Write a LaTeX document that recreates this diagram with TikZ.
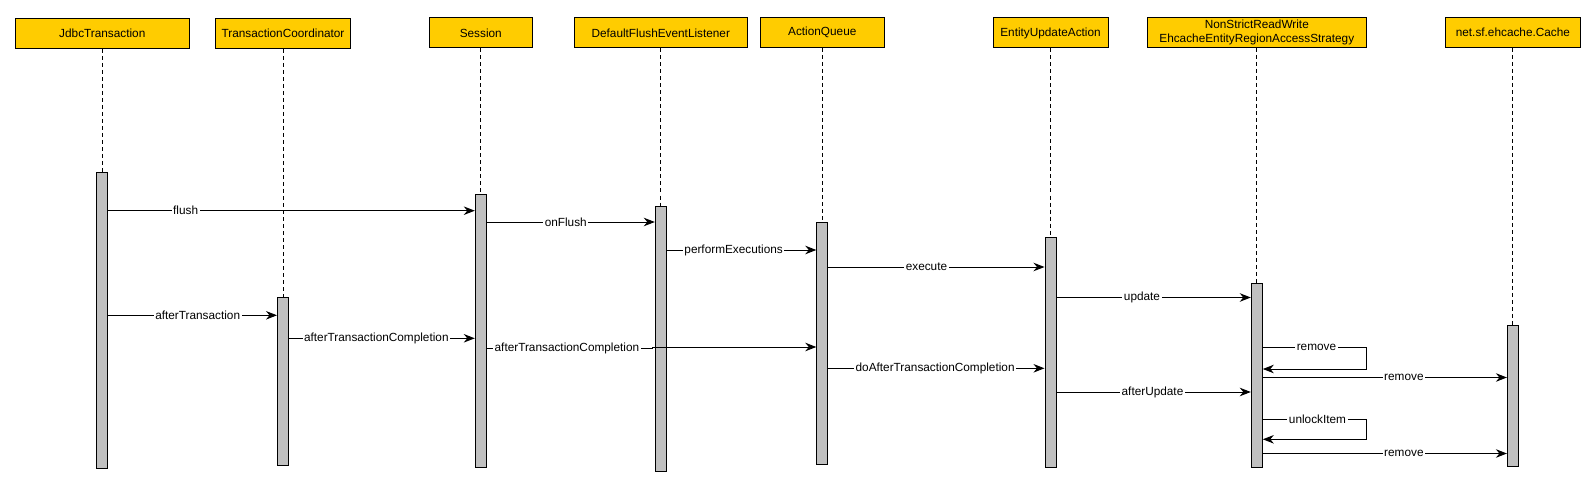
\documentclass[tikz,border=0pt]{standalone}
\usepackage{fontspec}
\setmainfont{Liberation Sans}
\usetikzlibrary{arrows.meta}
\definecolor{hdrfill}{HTML}{FFCC00}
\definecolor{barfill}{HTML}{C0C0C0}
\newcommand{\lblfont}{\fontsize{11.8}{14.6}\selectfont}
\begin{document}
\begin{tikzpicture}[x=1pt,y=-1pt,
  hdr/.style={draw=black, line width=1pt, fill=hdrfill, minimum height=30pt, inner sep=0pt, font=\lblfont, align=center},
  actbar/.style={draw=black, line width=1pt, fill=barfill, minimum width=11pt, inner sep=0pt, anchor=north},
  life/.style={draw=black, line width=1pt, dash pattern=on 4pt off 3pt},
  msg/.style={draw=black, line width=1pt, -{Stealth[length=11pt,width=8.5pt,inset=3.5pt]}},
  lbl/.style={fill=white, inner xsep=1.5pt, inner ysep=1pt, font=\lblfont}]
\useasboundingbox (0,0) rectangle (1596,484);
\fill[white] (0,0) rectangle (1596,484);

% headers
\node[hdr, minimum width=174pt] (jdbc) at (102.3,33.5) {JdbcTransaction};
\node[hdr, minimum width=135.3pt] (tc) at (283,33.5) {TransactionCoordinator};
\node[hdr, minimum width=103.5pt] (sess) at (480.8,33) {Session};
\node[hdr, minimum width=173.5pt] (dfel) at (660.8,33) {DefaultFlushEventListener};
\node[hdr, minimum width=124.6pt] (aq) at (822.3,32.5) {ActionQueue};
\node[hdr, minimum width=115pt] (eua) at (1050.5,33) {EntityUpdateAction};
\node[hdr, minimum width=219pt] (nsrw) at (1256.8,32.3) {NonStrictReadWrite\\EhcacheEntityRegionAccessStrategy};
\node[hdr, minimum width=135.7pt] (cache) at (1512.9,32.3) {net.sf.ehcache.Cache};

% activation bars
\node[actbar, minimum height=296pt] (jdbcB) at (102.3,172.3) {};
\node[actbar, minimum height=168pt] (tcB) at (283,297.3) {};
\node[actbar, minimum height=272.4pt] (sessB) at (480.8,194.3) {};
\node[actbar, minimum height=264.8pt] (dfelB) at (660.8,206) {};
\node[actbar, minimum height=241.3pt] (aqB) at (822.3,222.3) {};
\node[actbar, minimum height=229.4pt] (euaB) at (1050.5,237.3) {};
\node[actbar, minimum height=184pt] (nsrwB) at (1256.8,283.3) {};
\node[actbar, minimum height=141pt] (cacheB) at (1512.9,325.3) {};

% lifelines
\foreach \h/\b in {jdbc/jdbcB, tc/tcB, sess/sessB, dfel/dfelB, aq/aqB, eua/euaB, nsrw/nsrwB, cache/cacheB}
  \draw[life] (\h.south) -- (\b.north);

% messages
\draw[msg] (jdbcB.east |- 0,210.7) -- node[lbl,pos=0.211]{flush} (sessB.west |- 0,210.7);
\draw[msg] (sessB.east |- 0,222) -- node[lbl,pos=0.47]{onFlush} (dfelB.west |- 0,222);
\draw[msg] (dfelB.east |- 0,250) -- node[lbl,pos=0.447]{performExecutions} (aqB.west |- 0,250);
\draw[msg] (aqB.east |- 0,267) -- node[lbl,pos=0.454]{execute} (euaB.west |- 0,267);
\draw[msg] (euaB.east |- 0,297.5) -- node[lbl,pos=0.44]{update} (nsrwB.west |- 0,297.5);
\draw[msg] (jdbcB.east |- 0,315.3) -- node[lbl,pos=0.53]{afterTransaction} (tcB.west |- 0,315.3);
\draw[msg] (tcB.east |- 0,338.3) -- node[lbl,pos=0.47]{afterTransactionCompletion} (sessB.west |- 0,338.3);
\coordinate (jog1) at (652,348.7);
\coordinate (jog2) at (652,347);
\draw[msg] (sessB.east |- 0,348.7) -- node[lbl,pos=0.485]{afterTransactionCompletion} (jog1) -- (jog2) -- (aqB.west |- 0,347);
\draw[msg] (aqB.east |- 0,368.3) -- node[lbl,pos=0.494]{doAfterTransactionCompletion} (euaB.west |- 0,368.3);
\draw[msg] (euaB.east |- 0,392) -- node[lbl,pos=0.494]{afterUpdate} (nsrwB.west |- 0,392);
\coordinate (loop1a) at (1366,347.7);
\coordinate (loop1b) at (1366,369);
\draw[msg] (nsrwB.east |- 0,347.7) -- node[lbl,pos=0.52]{remove} (loop1a) -- (loop1b) -- (nsrwB.east |- 0,369);
\draw[msg] (nsrwB.east |- 0,377.5) -- node[lbl,pos=0.578]{remove} (cacheB.west |- 0,377.5);
\coordinate (loop2a) at (1366,419.7);
\coordinate (loop2b) at (1366,439.3);
\draw[msg] (nsrwB.east |- 0,419.7) -- node[lbl,pos=0.53]{unlockItem} (loop2a) -- (loop2b) -- (nsrwB.east |- 0,439.3);
\draw[msg] (nsrwB.east |- 0,453.5) -- node[lbl,pos=0.578]{remove} (cacheB.west |- 0,453.5);
\end{tikzpicture}
\end{document}
